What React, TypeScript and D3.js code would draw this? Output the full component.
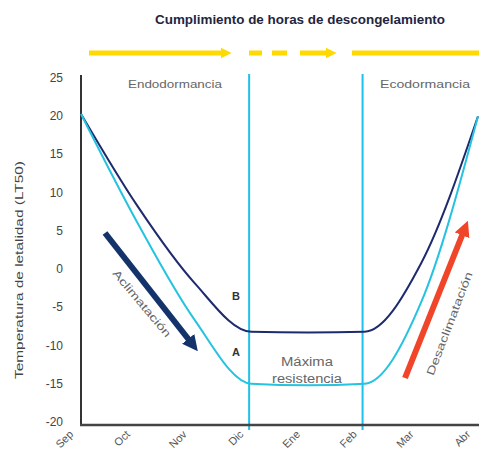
import React from "react";
import * as d3 from "d3";

const months = ["Sep", "Oct", "Nov", "Dic", "Ene", "Feb", "Mar", "Abr"];
const yTicks = [25, 20, 15, 10, 5, 0, -5, -10, -15, -20];
const seriesA = [20.3, 6.0, -6.6, -15.0, -15.2, -15.0, -4.3, 20.0];
const seriesB = [20.3, 8.2, -1.8, -8.2, -8.3, -8.2, 0.8, 20.0];
const phaseLines = [3, 5];

const W = 479;
const H = 462;

export default function App() {
  const x = d3.scaleLinear().domain([0, 7]).range([81, 478]);
  const y = d3.scaleLinear().domain([-20, 25]).range([422, 78]);
  const line = d3
    .line<number>()
    .x((_, i) => x(i))
    .y((d) => y(d))
    .curve(d3.curveMonotoneX);

  const font = "'Liberation Sans', Arial, sans-serif";
  const yellow = "#ffd900";

  return (
    <svg width={W} height={H} style={{ position: "absolute", left: 0, top: 0, background: "#fff" }}>
      <defs>
        <marker id="ahNavy" viewBox="0 0 10 10" refX="5" refY="5" markerWidth="2.6" markerHeight="2.6" orient="auto">
          <path d="M0,0 L10,5 L0,10 z" fill="#14336b" />
        </marker>
        <marker id="ahRed" viewBox="0 0 10 10" refX="5" refY="5" markerWidth="2.6" markerHeight="2.6" orient="auto">
          <path d="M0,0 L10,5 L0,10 z" fill="#f1452a" />
        </marker>
        <marker id="ahYel" viewBox="0 0 10 10" refX="5" refY="5" markerWidth="2.2" markerHeight="2.2" orient="auto">
          <path d="M0,0 L10,5 L0,10 z" fill={yellow} />
        </marker>
      </defs>

      {/* Title */}
      <text x={300} y={24} textAnchor="middle" fontFamily={font} fontWeight="bold" fontSize={12} fill="#1f2540"
        textLength={290} lengthAdjust="spacingAndGlyphs">
        Cumplimiento de horas de descongelamiento
      </text>

      {/* Yellow arrows */}
      <g stroke={yellow} strokeWidth={5}>
        <line x1={89} y1={53} x2={226} y2={53} markerEnd="url(#ahYel)" />
        <line x1={249} y1={53} x2={262} y2={53} />
        <line x1={272} y1={53} x2={287} y2={53} />
        <line x1={300} y1={53} x2={331} y2={53} markerEnd="url(#ahYel)" />
        <line x1={352} y1={53} x2={479} y2={53} />
      </g>

      {/* Phase lines */}
      {phaseLines.map((m) => (
        <line key={m} x1={x(m) - 2} x2={x(m) - 2} y1={74} y2={430} stroke="#1ec0ec" strokeWidth={2} />
      ))}

      {/* Phase labels */}
      <text x={175} y={88} textAnchor="middle" fontFamily={font} fontSize={11.5} fill="#666"
        textLength={94} lengthAdjust="spacingAndGlyphs">
        Endodormancia
      </text>
      <text x={425} y={88} textAnchor="middle" fontFamily={font} fontSize={11.5} fill="#666"
        textLength={90} lengthAdjust="spacingAndGlyphs">
        Ecodormancia
      </text>

      {/* Axes */}
      <line x1={81} x2={81} y1={75} y2={425} stroke="#333" strokeWidth={2} />
      <line x1={80} x2={479} y1={425} y2={425} stroke="#444" strokeWidth={2.5} />

      {/* Y tick labels */}
      {yTicks.map((t) => (
        <text key={t} x={63} y={y(t) + 4} textAnchor="end" fontFamily={font} fontSize={12} fill="#444">
          {t}
        </text>
      ))}

      {/* Y axis title */}
      <text
        transform={`translate(23,270) rotate(-90)`}
        textAnchor="middle"
        fontFamily={font}
        fontSize={11}
        fill="#444"
        textLength={218}
        lengthAdjust="spacingAndGlyphs"
      >
        Temperatura de letalidad (LT50)
      </text>

      {/* X labels */}
      {months.map((m, i) => (
        <text
          key={m}
          transform={`translate(${x(i) - 7},${435}) rotate(-45)`}
          textAnchor="end"
          fontFamily={font}
          fontSize={11}
          fill="#555"
        >
          {m}
        </text>
      ))}

      {/* Curves */}
      <path d={line(seriesB) || ""} fill="none" stroke="#1e2a6e" strokeWidth={2} />
      <path d={line(seriesA) || ""} fill="none" stroke="#25c3e0" strokeWidth={2} />

      {/* Curve labels */}
      <text x={236} y={300} textAnchor="middle" fontFamily={font} fontWeight="bold" fontSize={11} fill="#333">
        B
      </text>
      <text x={236} y={356} textAnchor="middle" fontFamily={font} fontWeight="bold" fontSize={11} fill="#333">
        A
      </text>

      <text x={307} y={366} textAnchor="middle" fontFamily={font} fontSize={12} fill="#666"
        textLength={52} lengthAdjust="spacingAndGlyphs">
        Máxima
      </text>
      <text x={307} y={383} textAnchor="middle" fontFamily={font} fontSize={12} fill="#666"
        textLength={70} lengthAdjust="spacingAndGlyphs">
        resistencia
      </text>

      {/* Acclimation arrow */}
      <line x1={105} y1={233} x2={193} y2={345} stroke="#14336b" strokeWidth={6} markerEnd="url(#ahNavy)" />
      <text
        transform={`translate(139,306) rotate(50)`}
        textAnchor="middle"
        fontFamily={font}
        fontSize={11}
        fill="#666"
        textLength={84}
        lengthAdjust="spacingAndGlyphs"
      >
        Aclimatación
      </text>

      {/* Deacclimation arrow */}
      <line x1={405} y1={378} x2={465} y2={228} stroke="#f1452a" strokeWidth={6} markerEnd="url(#ahRed)" />
      <text
        transform={`translate(453,325) rotate(-69)`}
        textAnchor="middle"
        fontFamily={font}
        fontSize={11}
        fill="#666"
        textLength={110}
        lengthAdjust="spacingAndGlyphs"
      >
        Desaclimatación
      </text>
    </svg>
  );
}
